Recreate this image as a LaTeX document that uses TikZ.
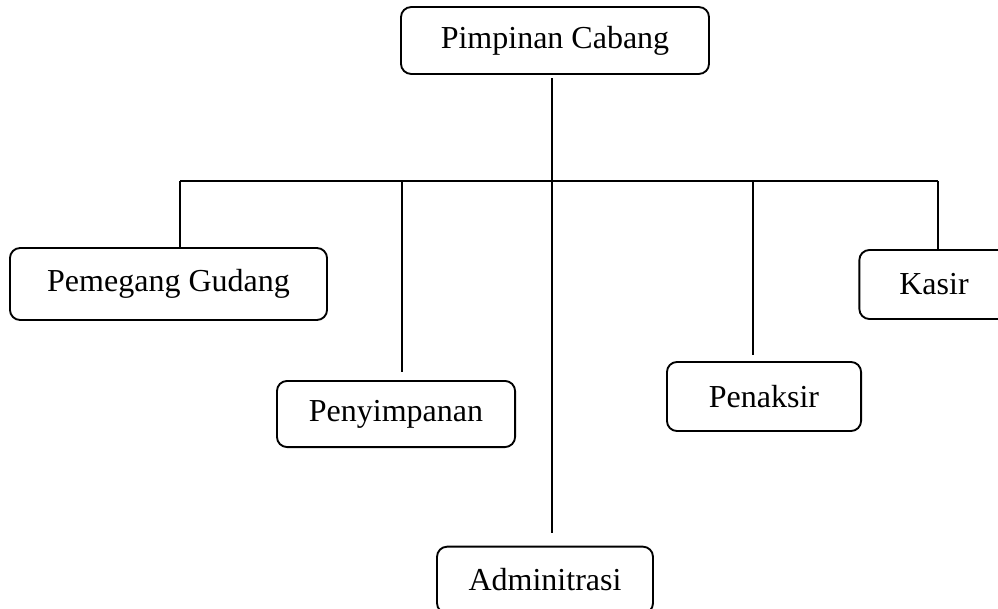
\documentclass[tikz,border=0pt]{standalone}
\usepackage{fontspec}
\setmainfont{Liberation Serif}
\usepackage{tikz}
\usetikzlibrary{positioning, calc}

\begin{document}
\begin{tikzpicture}[
  x=0.375pt, y=-0.375pt,
  box/.style={
    draw,
    rounded corners=3.8pt,
    align=center,
    line width=0.7pt,
    inner sep=0pt,
    font=\fontsize{12}{14}\selectfont
  },
  line/.style={line width=0.7pt}
]
\clip (0,0) rectangle (998,609);

% Head of the branch
\node[box, minimum width=115.5pt, minimum height=25.1pt] (pimpinan) at (555,40.5) {Pimpinan Cabang};

% Staff units
\node[box, minimum width=118.9pt, minimum height=27pt] (gudang) at (168.5,284) {Pemegang Gudang};
\node[box, minimum width=89.3pt, minimum height=24.8pt] (simpan) at (396,414) {Penyimpanan};
\node[box, minimum width=81pt, minimum height=25pt] (admin) at (545,580) {Adminitrasi};
\node[box, minimum width=72.8pt, minimum height=25.9pt] (taksir) at (764,396.5) {Penaksir};
\node[box, minimum width=56pt, minimum height=25.9pt] (kasir) at (934,284.5) {Kasir};

% Horizontal bus
\coordinate (bus) at (552,181);
\coordinate (busL) at (180,181);
\coordinate (busS) at (402,181);
\coordinate (busT) at (753,181);
\coordinate (busR) at (938,181);

% Connectors
\draw[line] ([yshift=-1.2pt]pimpinan.south -| bus) -- (bus);
\draw[line] (busL) -- (busR);
\draw[line] (busL) -- (busL |- gudang.north);
\draw[line, shorten >=3pt] (busS) -- (busS |- simpan.north);
\draw[line, shorten >=4.8pt] (bus) -- (bus |- admin.north);
\draw[line, shorten >=2.2pt] (busT) -- (busT |- taksir.north);
\draw[line] (busR) -- (busR |- kasir.north);

\end{tikzpicture}
\end{document}
